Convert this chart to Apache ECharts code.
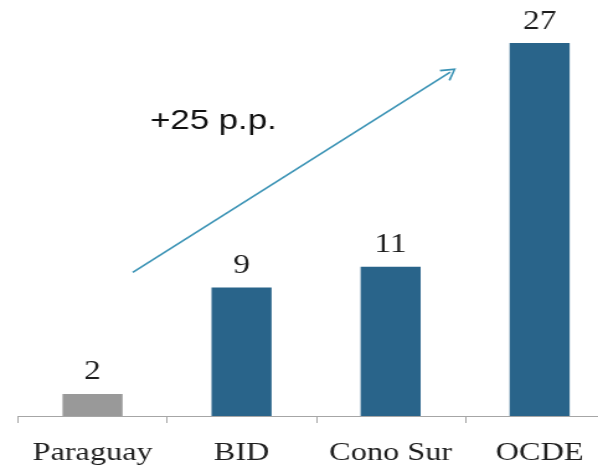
<!DOCTYPE html>
<html>
<head>
<meta charset="utf-8">
<script src="https://cdn.jsdelivr.net/npm/echarts@6/dist/echarts.min.js"></script>
<style>
html, body { margin: 0; padding: 0; background: #fff; overflow: hidden; }
#wrap { width: 598px; height: 469px; overflow: hidden; }
#chart { width: 500px; height: 469px; transform: scaleX(1.2407); transform-origin: 0 0; }
</style>
</head>
<body>
<div id="wrap"><div id="chart"></div></div>
<script>
// Data
const categories = ['Paraguay', 'BID', 'Cono Sur', 'OCDE'];
const values = [1.6, 9.3, 10.8, 27];
const barColors = ['#999999', '#29648A', '#29648A', '#29648A'];
const arrowFrom = [0.27, 10.4];
const arrowTo = [2.40, 24.9];
const annotationText = '+25 p.p.';

const chart = echarts.init(document.getElementById('chart'), null, { renderer: 'canvas' });

const option = {
  animation: false,
  grid: { left: 14.5, right: 5, top: 43, bottom: 53, containLabel: false },
  xAxis: [
    {
      type: 'category',
      data: categories,
      axisLine: { lineStyle: { color: '#A6A6A6', width: 1 } },
      axisTick: { show: true, length: 7, lineStyle: { color: '#A6A6A6' } },
      axisLabel: {
        interval: 0,
        margin: 24,
        color: '#1E1E1E',
        fontFamily: '"Liberation Serif", "Times New Roman", serif',
        fontSize: 26
      }
    },
    { type: 'value', min: -0.5, max: 3.5, show: false }
  ],
  yAxis: { type: 'value', min: 0, max: 27, show: false, splitLine: { show: false } },
  series: [
    {
      type: 'bar',
      xAxisIndex: 0,
      barWidth: 48.4,
      data: values.map((v, i) => ({ value: v, itemStyle: { color: barColors[i] } })),
      label: {
        show: true,
        position: 'top',
        distance: 8,
        color: '#1E1E1E',
        fontFamily: '"Liberation Serif", "Times New Roman", serif',
        fontSize: 27,
        formatter: p => Math.round(p.value)
      }
    },
    {
      type: 'line',
      xAxisIndex: 1,
      data: [],
      silent: true,
      markLine: {
        silent: true,
        symbol: ['none', 'path://M0,10 L5,0 L10,10 L8.8,10.6 L5,2.6 L1.2,10.6 Z'],
        symbolSize: [14, 12],
        label: { show: false },
        lineStyle: { color: '#3B93B5', width: 1.6, type: 'solid' },
        emphasis: { disabled: true },
        data: [[{ coord: arrowFrom }, { coord: arrowTo }]]
      }
    }
  ],
  graphic: [
    {
      type: 'text',
      left: 121,
      top: 107,
      style: {
        text: annotationText,
        fill: '#111111',
        font: '28px "Liberation Sans", Arial, sans-serif'
      }
    }
  ]
};

chart.setOption(option);
</script>
</body>
</html>
